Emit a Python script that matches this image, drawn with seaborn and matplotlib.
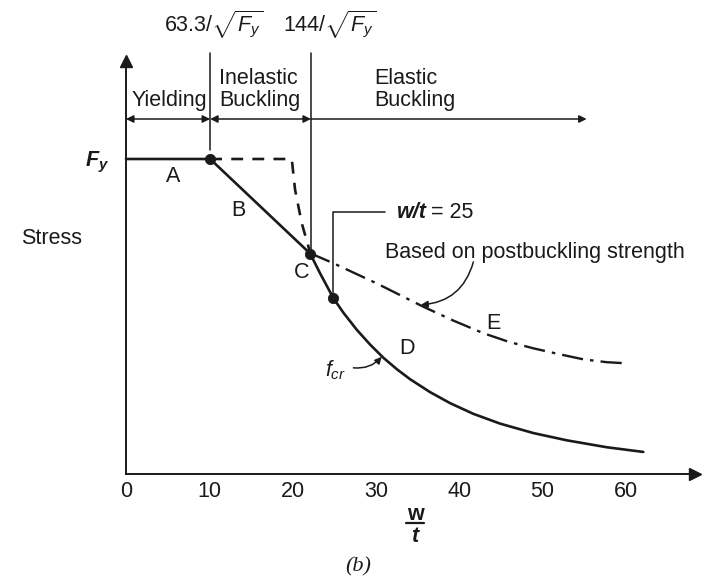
import matplotlib
matplotlib.use("Agg")
import matplotlib.pyplot as plt
import seaborn as sns
import pandas as pd

# --- data (w/t on x, stress as a fraction of Fy on y) ---
ticks_x = [0, 10, 20, 30, 40, 50, 60]

limit_yield = 10.1      # 63.3/sqrt(Fy)
limit_elastic = 22.2    # 144/sqrt(Fy)

# solid curve A-B-C-D
fcr_x = [0.0, 10.1, 22.1, 23.3, 24.9, 26.1, 27.7, 29.3, 30.9, 32.5, 34.1, 36.5,
         38.9, 41.7, 44.9, 48.9, 52.9, 57.7, 62.1]
fcr_y = [1.0, 1.0, 0.700, 0.637, 0.558, 0.512, 0.458, 0.411, 0.369, 0.333, 0.301,
         0.260, 0.225, 0.191, 0.160, 0.130, 0.107, 0.085, 0.070]

# dashed transition curve
dash_x = [10.1, 19.9, 20.3, 21.1, 21.9, 22.1]
dash_y = [1.0, 1.0, 0.902, 0.796, 0.722, 0.700]

# postbuckling curve E
post_x = [22.1, 24.9, 27.5, 30.1, 32.9, 35.7, 39.3, 42.9, 45.9, 48.9, 51.9, 54.9,
          57.7, 60.3]
post_y = [0.701, 0.669, 0.637, 0.605, 0.568, 0.531, 0.487, 0.447, 0.420, 0.399,
          0.381, 0.364, 0.355, 0.351]

# marked points
pts_x = [10.1, 22.1, 24.9]
pts_y = [1.0, 0.700, 0.558]

region_y = 1.127
region_end = 55.3
top_y = 1.336

sns.set_theme(style="white")
plt.rcParams["font.family"] = ["Liberation Sans", "DejaVu Sans"]
plt.rcParams["mathtext.fontset"] = "custom"
plt.rcParams["mathtext.rm"] = "Liberation Sans"
plt.rcParams["mathtext.it"] = "Liberation Sans:italic"
plt.rcParams["mathtext.bf"] = "Liberation Sans:bold:italic"

ink = "#1a1a1a"
fs = 15.5

fig = plt.figure(figsize=(7.07, 5.82), dpi=100)
ax = fig.add_axes([0, 0, 1, 1])
ax.set_xlim(-126 / 8.33, (707 - 126) / 8.33)
ax.set_ylim(-108 / 315, 474 / 315)
ax.patch.set_alpha(0)

# curves
df_fcr = pd.DataFrame({"x": fcr_x, "y": fcr_y})
df_dash = pd.DataFrame({"x": dash_x, "y": dash_y})
df_post = pd.DataFrame({"x": post_x, "y": post_y})
sns.lineplot(data=df_fcr, x="x", y="y", ax=ax, color=ink, linewidth=1.9, sort=False)
sns.lineplot(data=df_dash, x="x", y="y", ax=ax, color=ink, linewidth=1.9,
             sort=False, linestyle=(0, (4.5, 3.5)))
sns.lineplot(data=df_post, x="x", y="y", ax=ax, color=ink, linewidth=1.7,
             sort=False, linestyle=(0, (9, 3, 1.5, 3)))
sns.scatterplot(x=pts_x, y=pts_y, ax=ax, color=ink, s=55, edgecolor=ink, zorder=5)

# axes with arrowheads
for side in ["top", "right"]:
    ax.spines[side].set_visible(False)
ax.spines["left"].set_position(("data", 0))
ax.spines["bottom"].set_position(("data", 0))
ax.spines["left"].set_bounds(0, 1.31)
ax.spines["bottom"].set_bounds(0, 68.0)
for side in ["left", "bottom"]:
    ax.spines[side].set_color(ink)
    ax.spines[side].set_linewidth(1.4)
ax.plot([68.3], [0], marker=">", color=ink, markersize=9, clip_on=False)
ax.plot([0], [1.31], marker="^", color=ink, markersize=9, clip_on=False)

ax.set_xticks(ticks_x)
ax.set_xticklabels([str(t) for t in ticks_x])
ax.set_yticks([])
ax.tick_params(axis="x", direction="in", length=10, width=1.1, color=ink,
               labelsize=fs, labelcolor=ink, pad=5)
ax.set_xlabel("")
ax.set_ylabel("")

# region boundaries
ax.plot([limit_yield, limit_yield], [top_y, 1.03], color=ink, lw=1.1)
ax.plot([limit_elastic, limit_elastic], [top_y, 0.715], color=ink, lw=1.1)

arrow_kw = dict(color=ink, lw=1.1, shrinkA=0, shrinkB=0, mutation_scale=11)
ax.annotate("", xy=(0, region_y), xytext=(limit_yield, region_y),
            arrowprops=dict(arrowstyle="<|-|>", **arrow_kw))
ax.annotate("", xy=(limit_yield, region_y), xytext=(limit_elastic, region_y),
            arrowprops=dict(arrowstyle="<|-|>", **arrow_kw))
ax.annotate("", xy=(limit_elastic, region_y), xytext=(region_end, region_y),
            arrowprops=dict(arrowstyle="<|-", **arrow_kw))

# w/t = 25 leader
ax.plot([24.9, 24.9, 31.1], [0.558, 0.832, 0.832], color=ink, lw=1.1)

txt = dict(color=ink, fontsize=fs, va="center")
ax.text(10.56, 1.425, r"$63.3/\sqrt{F_y}$", ha="center", **txt)
ax.text(24.4, 1.425, r"$144/\sqrt{F_y}$", ha="center", **txt)
ax.text(5.16, 1.187, "Yielding", ha="center", **txt)
ax.text(11.16, 1.257, "Inelastic", ha="left", **txt)
ax.text(11.16, 1.187, "Buckling", ha="left", **txt)
ax.text(29.8, 1.257, "Elastic", ha="left", **txt)
ax.text(29.8, 1.187, "Buckling", ha="left", **txt)
ax.text(-8.9, 0.749, "Stress", ha="center", **txt)
ax.text(-3.5, 0.99, r"$\mathbf{F}_{\mathbf{y}}$", ha="center", **txt)
ax.text(5.64, 0.943, "A", ha="center", **txt)
ax.text(13.45, 0.838, "B", ha="center", **txt)
ax.text(21.13, 0.641, "C", ha="center", **txt)
ax.text(33.7, 0.40, "D", ha="center", **txt)
ax.text(44.06, 0.479, "E", ha="center", **txt)
ax.text(32.5, 0.829, "w/t", ha="left", fontweight="bold", fontstyle="italic",
        color=ink, fontsize=fs, va="center")
ax.text(36.6, 0.829, "= 25", ha="left", **txt)
ax.text(31.1, 0.702, "Based on postbuckling strength", ha="left", **txt)
ax.text(25.2, 0.33, r"$f_{cr}$", ha="center", **txt)

ax.annotate("", xy=(30.7, 0.372), xytext=(27.3, 0.337),
            arrowprops=dict(arrowstyle="-|>", color=ink, lw=1.1, mutation_scale=10,
                            shrinkA=0, shrinkB=0, connectionstyle="arc3,rad=0.25"))
ax.annotate("", xy=(35.4, 0.537), xytext=(41.7, 0.673),
            arrowprops=dict(arrowstyle="-|>", color=ink, lw=1.1, mutation_scale=10,
                            shrinkA=0, shrinkB=0, connectionstyle="arc3,rad=-0.35"))

# x-axis label as a stacked fraction
ax.text(34.7, -0.130, "w", ha="center", va="center", fontweight="bold",
        fontsize=fs, color=ink)
ax.plot([33.6, 35.8], [-0.157, -0.157], color=ink, lw=1.6, clip_on=False)
ax.text(34.7, -0.200, "t", ha="center", va="center", fontweight="bold",
        fontstyle="italic", fontsize=fs, color=ink)

ax.text(27.85, -0.295, "(b)", ha="center", va="center", fontsize=16,
        fontstyle="italic", family=["Liberation Serif", "DejaVu Serif"], color=ink)

fig.savefig("out.png", dpi=100, facecolor="white")
